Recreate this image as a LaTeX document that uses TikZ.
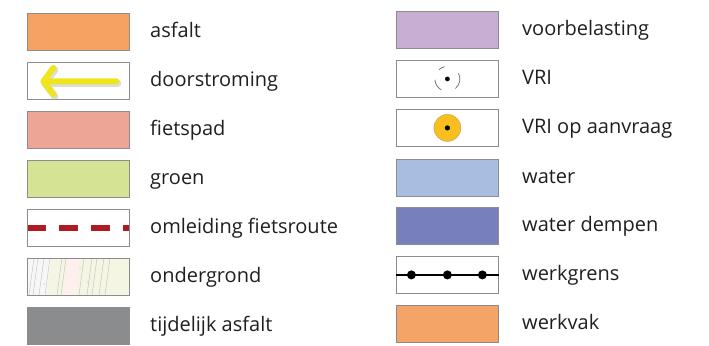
\documentclass[tikz,border=0pt]{standalone}
\usepackage{fontspec}
\setmainfont{Open Sans}
\definecolor{casfalt}{HTML}{F5A262}
\definecolor{cfiets}{HTML}{EDA595}
\definecolor{cgroen}{HTML}{D4E394}
\definecolor{ctijd}{HTML}{8B8C8E}
\definecolor{cvoor}{HTML}{C8AED3}
\definecolor{cwater}{HTML}{A8BEE0}
\definecolor{cdempen}{HTML}{7880BB}
\definecolor{cwerkvak}{HTML}{F4A466}
\definecolor{cred}{HTML}{B01A22}
\definecolor{cyel}{HTML}{F0E51C}
\definecolor{cvri}{HTML}{F8BF1E}
\definecolor{cground}{HTML}{F4F5E2}
\begin{document}
\begin{tikzpicture}[x=1bp,y=-1bp,
  box/.style={draw=black!45, line width=0.8bp, minimum width=102bp, minimum height=37bp, inner sep=0, anchor=north west},
  lbl/.style={anchor=base west, inner sep=0, font=\fontsize{20bp}{22bp}\selectfont, text=black!88}]
\useasboundingbox (0,0) rectangle (709,345);
% left column
\node[box, fill=casfalt] (b1) at (27,13) {};
\node[lbl] (t1) at (150,37) {asfalt};
\node[box, fill=white] (b2) at (27,62) {};
\node[lbl] (t2) at (150,86) {doorstroming};
\node[box, fill=cfiets] (b3) at (27,111) {};
\node[lbl] (t3) at (150,135) {fietspad};
\node[box, fill=cgroen] (b4) at (27,160) {};
\node[lbl] (t4) at (150,184) {groen};
\node[box, fill=white] (b5) at (27,209) {};
\node[lbl] (t5) at (150,233) {omleiding fietsroute};
\node[box, fill=cground] (b6) at (27,258) {};
\node[lbl] (t6) at (150,282) {ondergrond};
\node[box, fill=ctijd] (b7) at (27,307) {};
\node[lbl] (t7) at (150,331) {tijdelijk asfalt};
% right column
\node[box, fill=cvoor] (r1) at (396,11) {};
\node[lbl] (s1) at (522,35) {voorbelasting};
\node[box, fill=white] (r2) at (396,60) {};
\node[lbl] (s2) at (522,84) {VRI};
\node[box, fill=white] (r3) at (396,109) {};
\node[lbl] (s3) at (522,133) {VRI op aanvraag};
\node[box, fill=cwater] (r4) at (396,159) {};
\node[lbl] (s4) at (522,183) {water};
\node[box, fill=cdempen] (r5) at (396,207) {};
\node[lbl] (s5) at (522,231) {water dempen};
\node[box, fill=white] (r6) at (396,256) {};
\node[lbl] (s6) at (522,280) {werkgrens};
\node[box, fill=cwerkvak] (r7) at (396,305) {};
\node[lbl] (s7) at (522,329) {werkvak};
% doorstroming arrow
\begin{scope}[shift={(b2.center)}]
  \begin{scope}[shift={(1.5,2)}]
  \draw[black!30, opacity=0.45, line width=7bp, line cap=round, line join=round]
    (-25,-13) -- (-35,0.5) -- (-25,13.5) (-35,0.5) -- (38,0.5);
  \end{scope}
  \draw[cyel, line width=6bp, line cap=round, line join=round]
    (-25,-13) -- (-35,0.5) -- (-25,13.5) (-35,0.5) -- (38,0.5);
\end{scope}
% omleiding
\begin{scope}
  \clip (b5.north west) rectangle (b5.south east);
  \draw[cred, line width=6bp, dash pattern=on 19bp off 13bp] (b5.west) -- (b5.east);
\end{scope}
\draw[black!45, line width=0.8bp] (b5.north west) rectangle (b5.south east);
% ondergrond texture
\begin{scope}
  \clip (b6.north west) rectangle (b6.south east);
  \fill[white!70!gray!20] (27,258) -- (52,258) -- (46,295) -- (27,295) -- cycle;
  \fill[pink!25] (68,258) -- (80,258) -- (76,295) -- (64,295) -- cycle;
  \foreach \x in {34,38,44,50,62,66,84,92,97,104,110} {
    \draw[black!25, line width=0.4bp] (\x,258) -- (\x-5,295);
  }
  \fill[black!30] (44,284) circle (0.6);
  \fill[black!30] (88,282) circle (0.6);
  \fill[black!30] (80,268) circle (0.5);
\end{scope}
\draw[black!45, line width=0.8bp] (b6.north west) rectangle (b6.south east);
% VRI
\begin{scope}[shift={(r2.center)}]
  \fill[black] (0,0) circle (2.4);
  \draw[black!60, line width=0.7bp] (-132:12.5) arc[start angle=-132, end angle=-103, radius=12.5];
  \draw[black!60, line width=0.7bp] (-240:12.5) arc[start angle=-240, end angle=-184, radius=12.5];
  \draw[black!60, line width=0.7bp] (-27:12.5) arc[start angle=-27, end angle=50, radius=12.5];
\end{scope}
% VRI op aanvraag
\begin{scope}[shift={(r3.center)}]
  \fill[cvri, draw=orange!70!black!60, line width=0.5bp] (0,0) circle (13.5);
  \fill[black] (0,0) circle (2.6);
\end{scope}
% werkgrens
\draw[black, line width=2bp] (r6.west) -- (r6.east);
\begin{scope}[shift={(r6.center)}]
  \fill[black] (-36,0) circle (4.5);
  \fill[black] (0,0) circle (4.5);
  \fill[black] (35,0) circle (4.5);
\end{scope}
\end{tikzpicture}
\end{document}
